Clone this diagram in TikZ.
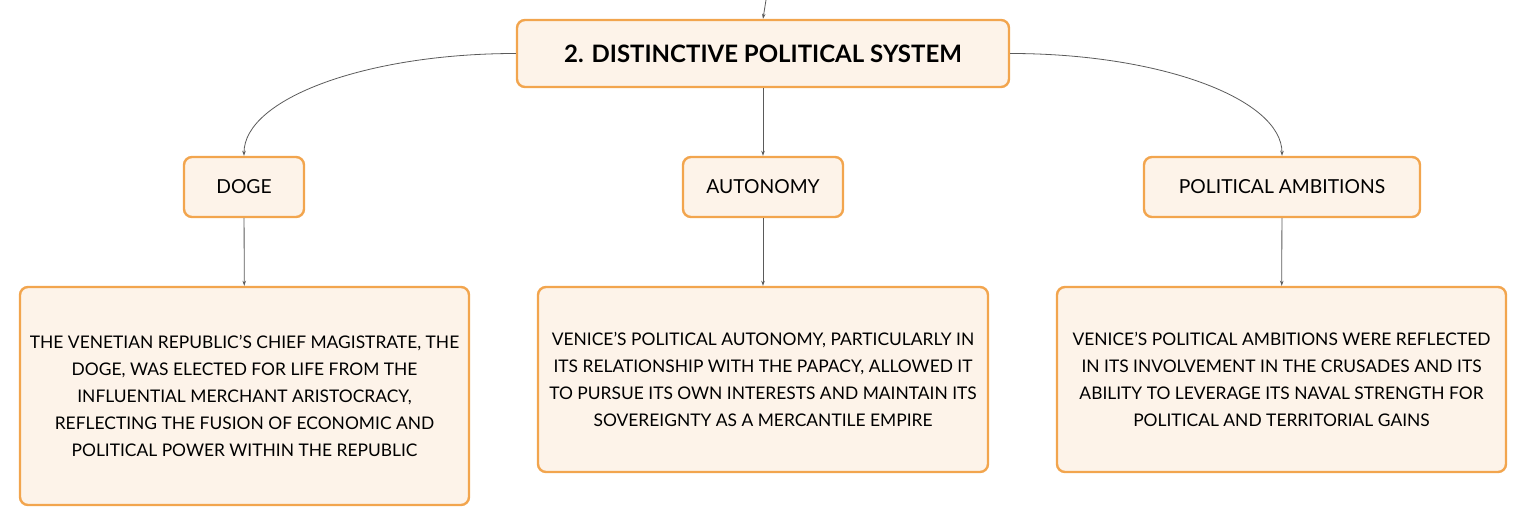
\documentclass[tikz,border=0pt]{standalone}
\usepackage{fontspec}
\setmainfont{Lato}
\usetikzlibrary{arrows.meta}
\definecolor{boxline}{HTML}{F2A54E}
\definecolor{boxfill}{HTML}{FDF3E9}
\definecolor{wire}{HTML}{5A5A5A}
\tikzset{
  topic/.style={draw=boxline, fill=boxfill, line width=2.4pt, rounded corners=8pt,
    align=center, inner sep=0pt},
  label/.style={topic, minimum height=60pt, font=\fontsize{19.3}{22}\selectfont},
  detail/.style={topic, font=\fontsize{17.4}{27}\selectfont},
  link/.style={draw=wire, line width=0.8pt, -{Stealth[length=5pt,width=3.5pt]}},
}
\begin{document}
\begin{tikzpicture}[x=1pt,y=-1pt]
	\useasboundingbox (0,0) rectangle (1527,526);
	\node[topic, minimum width=492pt, minimum height=67pt, font=\fontsize{24}{28}\selectfont\bfseries] (sys) at (763,53.5) {2. DISTINCTIVE POLITICAL SYSTEM};
	\node[label, minimum width=120pt] (doge) at (244,187) {DOGE};
	\node[label, minimum width=160pt] (auto) at (763,187) {AUTONOMY};
	\node[label, minimum width=276pt] (amb) at (1282,187) {POLITICAL AMBITIONS};
	\node[detail, minimum width=449pt, minimum height=218pt] (dogetxt) at (244.5,396) {THE VENETIAN REPUBLIC'S CHIEF MAGISTRATE, THE\\DOGE, WAS ELECTED FOR LIFE FROM THE\\INFLUENTIAL MERCHANT ARISTOCRACY,\\REFLECTING THE FUSION OF ECONOMIC AND\\POLITICAL POWER WITHIN THE REPUBLIC};
	\node[detail, minimum width=450pt, minimum height=185pt] (autotxt) at (763,379.5) {VENICE'S POLITICAL AUTONOMY, PARTICULARLY IN\\ITS RELATIONSHIP WITH THE PAPACY, ALLOWED IT\\TO PURSUE ITS OWN INTERESTS AND MAINTAIN ITS\\SOVEREIGNTY AS A MERCANTILE EMPIRE};
	\node[detail, minimum width=449pt, minimum height=185pt] (ambtxt) at (1281.5,379.5) {VENICE'S POLITICAL AMBITIONS WERE REFLECTED\\IN ITS INVOLVEMENT IN THE CRUSADES AND ITS\\ABILITY TO LEVERAGE ITS NAVAL STRENGTH FOR\\POLITICAL AND TERRITORIAL GAINS};
	\coordinate (up) at (766,0);
	\draw[link] (up) -- (sys.north);
	\draw[link] (sys.west) .. controls +(-150,0) and +(0,-57) .. (doge.north);
	\draw[link] (sys.south) -- (auto.north);
	\draw[link] (sys.east) .. controls +(150,0) and +(0,-57) .. (amb.north);
	\draw[link] (doge) -- (dogetxt);
	\draw[link] (auto) -- (autotxt);
	\draw[link] (amb) -- (ambtxt);
\end{tikzpicture}
\end{document}
